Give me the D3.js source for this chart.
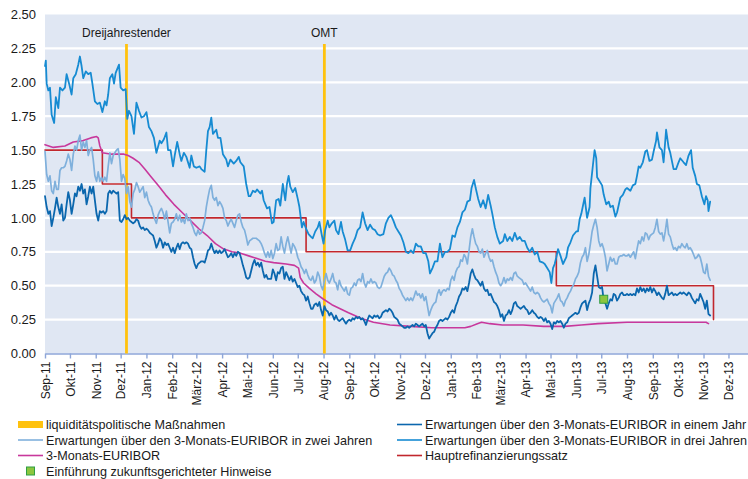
<!DOCTYPE html>
<html>
<head>
<meta charset="utf-8">
<script src="https://cdn.jsdelivr.net/npm/d3@7"></script>
<style>
  body { margin: 0; background: #fff; }
  svg text { font-family: "Liberation Sans", Arial, sans-serif; fill: #1a1a1a; }
</style>
</head>
<body>
<svg id="chart" width="748" height="479"></svg>
<script>
// ---- data ---------------------------------------------------------------
const startDate = new Date(2011, 8, 1);      // 1 Sep 2011
const endDate = new Date(2013, 11, 24, 12);  // right edge of the time axis
const monthNames = ["Jan", "Feb", "März", "Apr", "Mai", "Jun", "Jul", "Aug", "Sep", "Okt", "Nov", "Dez"];
const yTicks = [0, 0.25, 0.5, 0.75, 1, 1.25, 1.5, 1.75, 2, 2.25, 2.5];

// Hauptrefinanzierungssatz (effective dates)
const mroRate = [
  ["2011-09-01", 1.50], ["2011-11-09", 1.25], ["2011-12-14", 1.00],
  ["2012-07-11", 0.75], ["2013-05-08", 0.50], ["2013-11-13", 0.25]
];

// policy events
const events = [
  { label: "Dreijahrestender", date: "2011-12-08" },
  { label: "OMT", date: "2012-08-02" }
];
const forwardGuidance = { date: "2013-07-04", value: 0.40 };

// 3-Monats-EURIBOR: [days since 1 Sep 2011, %]
const euribor3M = [
  [0,1.54],[10,1.52],[24,1.53],[34,1.56],[46,1.57],[55,1.59],[62,1.60],[64,1.59],[66,1.53],[69,1.48],
  [80,1.47],[95,1.47],[100,1.46],[106,1.44],[113,1.41],[120,1.36],[128,1.30],[136,1.24],[145,1.17],[155,1.10],
  [165,1.04],[175,0.98],[185,0.92],[195,0.87],[205,0.81],[215,0.77],[225,0.75],[235,0.74],[245,0.72],[255,0.70],
  [265,0.68],[275,0.67],[290,0.66],[300,0.65],[305,0.63],[307,0.56],[311,0.52],[318,0.48],[326,0.44],[335,0.40],
  [345,0.36],[355,0.33],[365,0.30],[380,0.26],[395,0.23],[415,0.21],[440,0.20],[465,0.19],[490,0.19],[505,0.19],
  [512,0.20],[520,0.22],[525,0.23],[535,0.22],[550,0.21],[575,0.21],[600,0.20],[625,0.20],[645,0.21],[665,0.22],
  [700,0.23],[740,0.23],[770,0.23],[795,0.23],[798,0.22]
];

// Erwartungen über den 3-Monats-EURIBOR in drei Jahren: [days since 1 Sep 2011, %]
const erw3J = [
  [0,2.12],[1,2.16],[2,1.99],[4,1.94],[6,1.96],[8,1.76],[11,1.70],[13,1.89],[16,1.81],[18,1.96],
  [21,1.94],[24,1.96],[26,2.06],[29,1.99],[32,1.91],[34,2.03],[37,2.06],[40,2.13],[42,2.19],[44,2.12],
  [46,2.03],[49,2.08],[52,2.06],[55,2.07],[57,1.99],[60,1.86],[63,1.84],[66,1.85],[69,1.78],[72,1.86],
  [74,1.83],[76,1.91],[78,2.03],[81,2.06],[83,1.99],[85,2.07],[89,2.13],[91,1.96],[94,1.94],[97,1.95],
  [99,1.73],[101,1.79],[104,1.75],[107,1.62],[110,1.85],[113,1.79],[116,1.74],[119,1.75],[122,1.78],[125,1.67],
  [128,1.64],[131,1.59],[134,1.48],[138,1.57],[140,1.55],[143,1.58],[146,1.63],[148,1.50],[151,1.50],[154,1.38],
  [156,1.46],[159,1.56],[162,1.47],[164,1.42],[167,1.48],[170,1.45],[174,1.37],[176,1.46],[179,1.38],[182,1.37],
  [186,1.38],[188,1.36],[192,1.34],[194,1.50],[196,1.64],[198,1.67],[200,1.74],[202,1.62],[206,1.65],[208,1.59],
  [211,1.59],[214,1.47],[218,1.43],[220,1.38],[223,1.43],[227,1.40],[230,1.42],[233,1.45],[235,1.41],[239,1.38],
  [242,1.25],[245,1.16],[247,1.16],[250,1.20],[253,1.19],[255,1.21],[259,1.18],[261,1.20],[263,1.13],[267,1.07],
  [270,1.08],[273,0.96],[275,0.97],[278,1.13],[281,1.14],[283,1.09],[286,1.25],[289,1.13],[291,1.25],[293,1.31],
  [295,1.23],[298,1.19],[301,1.22],[304,1.14],[306,1.08],[309,0.93],[311,0.97],[314,0.92],[317,0.88],[320,0.86],
  [322,0.85],[325,0.90],[328,0.93],[330,0.97],[333,0.87],[335,0.81],[337,0.91],[340,0.98],[342,0.93],[345,0.96],
  [348,0.98],[350,0.91],[353,0.88],[356,0.97],[358,0.90],[361,0.84],[364,0.76],[367,0.76],[370,0.81],[373,0.85],
  [376,0.91],[379,0.93],[382,1.04],[385,0.96],[388,0.91],[391,0.95],[394,0.92],[397,0.91],[400,0.88],[403,0.87],
  [407,0.88],[410,0.96],[413,1.00],[416,1.02],[419,0.98],[422,0.93],[425,0.90],[428,0.87],[431,0.82],[434,0.75],
  [437,0.74],[440,0.76],[443,0.74],[446,0.81],[449,0.79],[452,0.79],[455,0.74],[458,0.74],[461,0.68],[463,0.59],
  [466,0.63],[469,0.68],[472,0.68],[475,0.81],[478,0.71],[481,0.75],[484,0.75],[487,0.77],[490,0.87],[493,0.86],
  [496,0.93],[499,0.97],[502,1.04],[505,1.06],[508,1.12],[511,1.13],[513,1.22],[516,1.28],[518,1.22],[521,1.14],
  [524,1.08],[527,1.13],[530,1.07],[533,1.17],[536,1.09],[538,1.03],[541,0.93],[544,0.86],[547,0.81],[551,0.83],
  [553,0.88],[556,0.83],[559,0.86],[562,0.83],[565,0.89],[568,0.84],[571,0.86],[574,0.83],[577,0.83],[580,0.78],
  [583,0.75],[586,0.78],[589,0.73],[592,0.75],[595,0.68],[599,0.67],[601,0.66],[604,0.63],[607,0.60],[609,0.52],
  [611,0.63],[613,0.66],[615,0.71],[617,0.77],[620,0.72],[623,0.66],[627,0.71],[629,0.78],[632,0.82],[635,0.87],
  [639,0.90],[641,0.90],[643,0.99],[645,1.03],[647,1.09],[649,1.15],[652,1.00],[655,1.08],[656,1.22],[659,1.39],
  [661,1.50],[663,1.44],[664,1.30],[667,1.27],[670,1.24],[672,1.17],[675,1.10],[678,1.12],[680,1.08],[683,1.09],
  [686,1.01],[688,1.04],[692,1.15],[695,1.17],[698,1.21],[700,1.22],[704,1.20],[707,1.24],[710,1.25],[712,1.31],
  [714,1.38],[716,1.37],[719,1.41],[722,1.49],[724,1.50],[727,1.42],[730,1.43],[732,1.49],[735,1.57],[736,1.63],
  [739,1.52],[742,1.50],[744,1.41],[747,1.65],[750,1.52],[752,1.48],[756,1.36],[759,1.36],[762,1.41],[764,1.44],
  [768,1.41],[771,1.39],[774,1.46],[777,1.50],[779,1.37],[782,1.31],[784,1.25],[787,1.24],[790,1.16],[793,1.10],
  [795,1.16],[797,1.13],[798,1.05],[800,1.12]
];

// Erwartungen in zwei Jahren / in einem Jahr: one value every second calendar day from 1 Sep 2011
const sampleStepDays = 2;
const erw2J = [
  1.49,1.32,1.27,1.31,1.20,1.18,1.27,1.21,1.21,1.35, 1.37,1.37,1.38,1.42,1.47,1.43,1.35,1.47,1.53,1.50,
  1.57,1.61,1.50,1.56,1.52,1.57,1.46,1.50,1.52,1.43, 1.31,1.27,1.34,1.27,1.30,1.27,1.30,1.27,1.38,1.48,
  1.40,1.46,1.48,1.50,1.51,1.43,1.27,1.32,1.29,1.18, 1.23,1.12,1.08,1.18,1.21,1.26,1.23,1.19,1.21,1.23,
  1.15,1.19,1.13,1.10,1.08,1.03,0.99,0.96,1.02,1.05, 1.07,1.04,0.99,1.05,0.97,0.89,0.96,0.97,0.99,1.03,
  0.98,1.02,0.97,0.99,0.96,1.03,0.98,1.00,0.96,0.93, 0.89,0.87,0.91,0.88,0.89,0.93,0.98,1.08,1.15,1.21,
  1.24,1.15,1.13,1.15,1.09,1.12,1.10,1.07,1.00,0.98, 0.94,0.97,0.99,0.96,0.93,0.98,1.02,1.03,0.97,0.93,
  0.91,0.86,0.80,0.83,0.84,0.85,0.85,0.85,0.84,0.83, 0.81,0.78,0.74,0.71,0.75,0.71,
  0.76,0.70,0.74,0.81,0.76,0.77,0.86,0.79,0.74,0.81, 0.86,0.80,0.74,0.81,0.79,0.76,0.71,0.68,0.64,0.62,
  0.59,0.62,0.58,0.55,0.54,0.57,0.52,0.54,0.60,0.57, 0.50,0.47,0.54,0.59,0.54,0.52,0.55,0.59,0.53,0.52,
  0.47,0.54,0.50,0.48,0.46,0.49,0.44,0.43,0.48,0.49, 0.52,0.50,0.54,0.55,0.53,0.59,0.52,0.49,0.53,0.52,
  0.55,0.52,0.53,0.52,0.49,0.48,0.49,0.53,0.57,0.59, 0.60,0.63,0.61,0.58,0.57,0.54,0.52,0.48,0.46,0.43,
  0.41,0.39,0.41,0.39,0.41,0.39,0.42,0.46,0.43,0.44, 0.41,0.44,0.39,0.42,0.35,0.28,0.32,0.35,0.37,0.38,
  0.44,0.47,0.43,0.46,0.47,0.46,0.48,0.47,0.54,0.57, 0.54,0.60,0.63,0.64,0.69,0.68,0.73,0.71,0.66,0.76,
  0.86,0.92,0.86,0.81,0.79,0.75,0.74,0.77,0.71,0.74, 0.76,0.71,0.68,0.69,0.64,0.60,0.57,0.52,
  0.50,0.52,0.56,0.52,0.55,0.54,0.56,0.54,0.59,0.60, 0.57,0.56,0.55,0.54,0.51,0.52,0.50,0.48,0.46,0.49,
  0.45,0.44,0.45,0.44,0.41,0.39,0.38,0.39,0.40,0.37, 0.35,0.30,0.37,0.39,0.41,0.44,0.39,0.38,0.35,0.39,
  0.41,0.44,0.46,0.49,0.51,0.55,0.57,0.60,0.67,0.71, 0.73,0.78,0.68,0.73,0.81,0.90,0.95,0.99,0.93,0.83,
  0.79,0.81,0.77,0.71,0.61,0.66,0.71,0.68,0.70,0.66, 0.66,0.71,0.72,0.72,0.73,0.72,0.72,0.73,0.71,0.73,
  0.75,0.70,0.77,0.83,0.81,0.86,0.83,0.89,0.88,0.84, 0.87,0.88,0.89,0.93,0.99,0.90,0.88,0.89,0.83,0.90,
  0.99,0.88,0.86,0.81,0.77,0.78,0.76,0.79,0.78,0.81, 0.79,0.78,0.81,0.77,0.78,0.76,0.73,0.70,0.71,0.73,
  0.71,0.66,0.60,0.59,0.66,0.57,0.54
];
const erw1J = [
  1.16,1.08,1.03,1.05,0.94,1.00,1.07,1.15,1.08,1.03, 1.10,0.98,1.00,1.10,1.19,1.13,1.03,1.10,1.18,1.16,
  1.23,1.20,1.25,1.18,1.21,1.10,1.16,1.23,1.18,1.23, 1.13,1.03,0.98,1.05,1.04,1.05,1.03,1.05,1.18,1.20,
  1.18,1.20,1.19,1.18,1.19,0.98,0.97,0.99,1.02,0.99, 1.00,0.98,0.97,0.96,0.97,0.99,0.98,0.94,0.92,0.93,
  0.91,0.92,0.91,0.89,0.88,0.87,0.83,0.78,0.81,0.85, 0.83,0.78,0.82,0.80,0.81,0.78,0.75,0.78,0.74,0.78,
  0.81,0.77,0.81,0.82,0.81,0.82,0.81,0.78,0.77,0.71, 0.66,0.63,0.66,0.67,0.68,0.68,0.67,0.71,0.76,0.77,
  0.81,0.77,0.74,0.76,0.74,0.76,0.74,0.75,0.77,0.74, 0.71,0.72,0.74,0.71,0.74,0.72,0.75,0.74,0.70,0.65,
  0.61,0.56,0.55,0.56,0.61,0.66,0.69,0.65,0.67,0.64, 0.67,0.61,0.56,0.58,0.55,0.55,
  0.55,0.62,0.59,0.54,0.60,0.59,0.63,0.64,0.55,0.60, 0.57,0.54,0.57,0.53,0.55,0.52,0.49,0.50,0.46,0.44,
  0.43,0.39,0.42,0.37,0.33,0.33,0.36,0.37,0.35,0.38, 0.32,0.28,0.35,0.32,0.31,0.28,0.30,0.28,0.25,0.28,
  0.25,0.24,0.25,0.26,0.24,0.22,0.24,0.25,0.24,0.26, 0.25,0.27,0.26,0.27,0.25,0.26,0.24,0.21,0.25,0.28,
  0.27,0.26,0.28,0.27,0.28,0.26,0.27,0.30,0.31,0.32, 0.31,0.33,0.32,0.30,0.27,0.26,0.25,0.22,0.21,0.20,
  0.19,0.19,0.20,0.19,0.20,0.21,0.20,0.22,0.21,0.20, 0.21,0.22,0.20,0.21,0.15,0.11,0.13,0.15,0.16,0.19,
  0.21,0.24,0.25,0.24,0.25,0.26,0.25,0.27,0.30,0.32, 0.30,0.35,0.38,0.42,0.44,0.48,0.47,0.49,0.46,0.52,
  0.59,0.62,0.58,0.55,0.54,0.52,0.50,0.53,0.48,0.46, 0.47,0.43,0.44,0.41,0.38,0.37,0.35,0.32,
  0.27,0.29,0.24,0.28,0.29,0.32,0.29,0.32,0.37,0.38, 0.35,0.34,0.33,0.34,0.35,0.33,0.32,0.29,0.30,0.32,
  0.30,0.29,0.27,0.26,0.27,0.26,0.24,0.26,0.23,0.24, 0.22,0.18,0.23,0.22,0.24,0.23,0.24,0.22,0.19,0.22,
  0.23,0.26,0.27,0.28,0.29,0.30,0.29,0.30,0.34,0.37, 0.38,0.39,0.32,0.37,0.40,0.45,0.59,0.65,0.57,0.49,
  0.48,0.49,0.39,0.37,0.33,0.37,0.40,0.39,0.44,0.43, 0.39,0.41,0.44,0.45,0.43,0.43,0.44,0.43,0.44,0.43,
  0.44,0.43,0.48,0.45,0.49,0.46,0.48,0.45,0.48,0.46, 0.49,0.45,0.48,0.46,0.43,0.45,0.43,0.41,0.40,0.44,
  0.50,0.43,0.44,0.45,0.43,0.44,0.43,0.44,0.45,0.44, 0.45,0.44,0.43,0.45,0.44,0.41,0.39,0.37,0.40,0.39,
  0.44,0.41,0.38,0.33,0.39,0.29,0.28
];

// legend entries
const legendLeft = [
  { type: "band", color: "#ffc20e", label: "liquiditätspolitische Maßnahmen" },
  { type: "line", color: "#7fb0dc", label: "Erwartungen über den 3-Monats-EURIBOR in zwei Jahren" },
  { type: "line", color: "#c8389c", label: "3-Monats-EURIBOR" },
  { type: "square", color: "#8cc63f", label: "Einführung zukunftsgerichteter Hinweise" }
];
const legendRight = [
  { type: "line", color: "#0b67ae", label: "Erwartungen über den 3-Monats-EURIBOR in einem Jahr" },
  { type: "line", color: "#168bd2", label: "Erwartungen über den 3-Monats-EURIBOR in drei Jahren" },
  { type: "line", color: "#c1272d", label: "Hauptrefinanzierungssatz" }
];

// ---- drawing ------------------------------------------------------------
const svg = d3.select("#chart");
const plot = { left: 45, right: 748, top: 14.5, bottom: 353.5 };

const x = d3.scaleTime().domain([startDate, endDate]).range([plot.left, plot.right]);
const y = d3.scaleLinear().domain([0, 2.5]).range([plot.bottom, plot.top]);
const parse = d3.timeParse("%Y-%m-%d");
const dayDate = d => d3.timeDay.offset(startDate, d);

// plot background and horizontal grid
svg.append("rect")
  .attr("x", plot.left).attr("y", plot.top)
  .attr("width", plot.right - plot.left).attr("height", plot.bottom - plot.top)
  .attr("fill", "#e0e7f3");

svg.append("g").selectAll("line")
  .data(yTicks.filter(v => v > 0 && v < 2.5))
  .join("line")
  .attr("x1", plot.left).attr("x2", plot.right)
  .attr("y1", d => y(d)).attr("y2", d => y(d))
  .attr("stroke", "#fff").attr("stroke-width", 2.2);

// y labels
svg.append("g").selectAll("text")
  .data(yTicks)
  .join("text")
  .attr("x", 36).attr("y", d => y(d)).attr("dy", "0.36em")
  .attr("text-anchor", "end").attr("font-size", 13)
  .text(d => d3.format(".2f")(d));

// x axis with monthly ticks
const monthTicks = d3.timeMonth.range(startDate, new Date(2013, 11, 2));
const xAxis = d3.axisBottom(x)
  .tickValues(monthTicks)
  .tickSize(5).tickSizeOuter(0)
  .tickFormat(d => monthNames[d.getMonth()] + "-" + String(d.getFullYear()).slice(2));
const gx = svg.append("g").attr("transform", `translate(0,${plot.bottom})`).call(xAxis);
gx.select(".domain").attr("stroke", "#8ea6d8").attr("stroke-width", 1.6);
gx.selectAll(".tick line").attr("stroke", "#8ea6d8").attr("stroke-width", 1.4);
gx.selectAll(".tick text")
  .attr("transform", "rotate(-90)")
  .attr("text-anchor", "end")
  .attr("x", -8).attr("y", 0).attr("dy", "0.36em")
  .attr("font-size", 12)
  .attr("fill", "#1a1a1a")
  .style("font-family", "'Liberation Sans', Arial, sans-serif");

// event markers
const ev = svg.append("g");
events.forEach(e => {
  const ex = x(parse(e.date));
  ev.append("line")
    .attr("x1", ex).attr("x2", ex)
    .attr("y1", 44).attr("y2", plot.bottom)
    .attr("stroke", "#ffc20e").attr("stroke-width", 2.8);
  ev.append("text")
    .attr("x", ex).attr("y", 37)
    .attr("text-anchor", "middle").attr("font-size", 12)
    .text(e.label);
});

// series
const lineDays = d3.line().x(d => x(dayDate(d[0]))).y(d => y(d[1]));
const lineGrid = d3.line().x((d, i) => x(dayDate(i * sampleStepDays))).y(d => y(d));
const lineStep = d3.line().curve(d3.curveStepAfter).x(d => x(parse(d[0]))).y(d => y(d[1]));

const series = svg.append("g").attr("fill", "none")
  .attr("stroke-linejoin", "round").attr("stroke-linecap", "round");

series.append("path").attr("d", lineStep(mroRate))
  .attr("stroke", "#c1272d").attr("stroke-width", 1.6);
series.append("path").attr("d", lineDays(euribor3M))
  .attr("stroke", "#c8389c").attr("stroke-width", 1.6);
series.append("path").attr("d", lineGrid(erw2J))
  .attr("stroke", "#7fb0dc").attr("stroke-width", 1.7);
series.append("path").attr("d", lineGrid(erw1J))
  .attr("stroke", "#0b67ae").attr("stroke-width", 1.8);
series.append("path").attr("d", lineDays(erw3J))
  .attr("stroke", "#168bd2").attr("stroke-width", 1.8);

// forward guidance marker
svg.append("rect")
  .attr("x", x(parse(forwardGuidance.date)) - 4)
  .attr("y", y(forwardGuidance.value) - 4)
  .attr("width", 8).attr("height", 8)
  .attr("fill", "#8cc63f").attr("stroke", "#2f9e44").attr("stroke-width", 1);

// legend
function drawLegend(items, x0, yStart, rowH) {
  const g = svg.append("g");
  items.forEach((it, i) => {
    const cy = yStart + i * rowH;
    if (it.type === "band") {
      g.append("rect").attr("x", x0).attr("y", cy - 3.5).attr("width", 25).attr("height", 7).attr("fill", it.color);
    } else if (it.type === "line") {
      g.append("line").attr("x1", x0).attr("x2", x0 + 25).attr("y1", cy).attr("y2", cy)
        .attr("stroke", it.color).attr("stroke-width", 1.6);
    } else {
      g.append("rect").attr("x", x0 + 8.5).attr("y", cy - 4).attr("width", 8).attr("height", 8)
        .attr("fill", it.color).attr("stroke", "#2f9e44").attr("stroke-width", 1);
    }
    g.append("text").attr("x", x0 + 28).attr("y", cy).attr("dy", "0.36em")
      .attr("font-size", 12.6).text(it.label);
  });
}
drawLegend(legendLeft, 18, 424.5, 15.5);
drawLegend(legendRight, 397, 424.5, 15.5);
</script>
</body>
</html>
